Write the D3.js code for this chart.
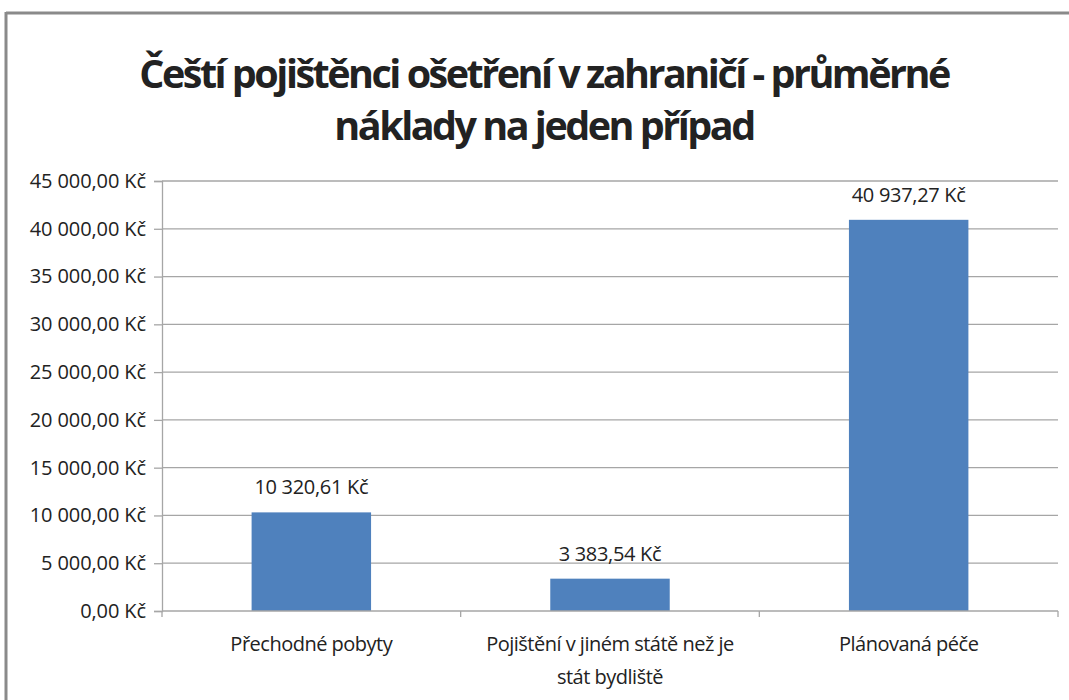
<!DOCTYPE html>
<html>
<head>
<meta charset="utf-8">
<script src="https://cdn.jsdelivr.net/npm/d3@7"></script>
<style>
  body { margin: 0; background: #fff; }
  text { font-family: "Open Sans", "Noto Sans", sans-serif; fill: #222; }
</style>
</head>
<body>
<svg width="1069" height="700"></svg>
<script>
// data
const categories = ["Přechodné pobyty", "Pojištění v jiném státě než je stát bydliště", "Plánovaná péče"];
const categoryLines = [["Přechodné pobyty"], ["Pojištění v jiném státě než je", "stát bydliště"], ["Plánovaná péče"]];
const values = [10320.61, 3383.54, 40937.27];
const valueLabels = ["10 320,61 Kč", "3 383,54 Kč", "40 937,27 Kč"];
const yTicks = [0, 5000, 10000, 15000, 20000, 25000, 30000, 35000, 40000, 45000];
const yTickLabels = ["0,00 Kč", "5 000,00 Kč", "10 000,00 Kč", "15 000,00 Kč", "20 000,00 Kč",
  "25 000,00 Kč", "30 000,00 Kč", "35 000,00 Kč", "40 000,00 Kč", "45 000,00 Kč"];
const titleLines = ["Čeští pojištěnci ošetření v zahraničí - průměrné", "náklady na jeden případ"];

const svg = d3.select("svg"),
  margin = { top: 181, right: 11, bottom: 89, left: 162 },
  width = 1069 - margin.left - margin.right,
  height = 700 - margin.top - margin.bottom;

// chart frame (only top and left edges show)
svg.append("line").attr("x1", 6).attr("x2", 1069).attr("y1", 13).attr("y2", 13)
  .attr("stroke", "#8a8a8a").attr("stroke-width", 3);
svg.append("line").attr("x1", 6).attr("x2", 6).attr("y1", 12).attr("y2", 700)
  .attr("stroke", "#8a8a8a").attr("stroke-width", 3);

// title
svg.append("text")
  .attr("x", 544).attr("y", 88)
  .attr("text-anchor", "middle")
  .attr("fill", "#000")
  .style("font-size", "39.5px").style("font-weight", "bold")
  .style("letter-spacing", "-2.5px")
  .selectAll("tspan").data(titleLines).enter().append("tspan")
  .attr("x", 544).attr("dy", (d, i) => i ? 52 : 0)
  .text(d => d);

const x = d3.scaleBand().domain(categories).range([0, width]).paddingInner(0.6).paddingOuter(0.3);
const xBand = d3.scaleBand().domain(categories).range([0, width]);
const y = d3.scaleLinear().domain([0, 45000]).range([height, 0]);

const g = svg.append("g").attr("transform", "translate(" + margin.left + "," + margin.top + ")");

// gridlines
g.append("g").selectAll("line").data(yTicks.slice(1)).enter().append("line")
  .attr("x1", 0).attr("x2", width)
  .attr("y1", d => y(d)).attr("y2", d => y(d))
  .attr("stroke", "#a6a6a6").attr("stroke-width", 1.3);

// y axis
const yAxis = g.append("g")
  .call(d3.axisLeft(y).tickValues(yTicks).tickSize(8).tickPadding(8)
    .tickFormat((d, i) => yTickLabels[i]));
yAxis.select(".domain").attr("stroke", "#a6a6a6").attr("stroke-width", 1.3);
yAxis.selectAll(".tick line").attr("stroke", "#a6a6a6").attr("stroke-width", 1.3);
yAxis.selectAll("text").style("font-size", "20px").style("letter-spacing", "-0.1px").attr("fill", "#222");

// bars
g.selectAll(".bar").data(values).enter().append("rect")
  .attr("class", "bar")
  .attr("x", (d, i) => x(categories[i]))
  .attr("width", x.bandwidth())
  .attr("y", d => y(d))
  .attr("height", d => height - y(d))
  .attr("fill", "#4f81bd");

// value labels
g.selectAll(".val").data(values).enter().append("text")
  .attr("x", (d, i) => x(categories[i]) + x.bandwidth() / 2)
  .attr("y", d => y(d) - 18)
  .attr("text-anchor", "middle")
  .style("font-size", "20px").style("letter-spacing", "-0.3px")
  .text((d, i) => valueLabels[i]);

// x axis
const xAxisG = g.append("g").attr("transform", "translate(0," + height + ")");
xAxisG.append("line").attr("x1", 0).attr("x2", width).attr("y1", 0).attr("y2", 0)
  .attr("stroke", "#a6a6a6").attr("stroke-width", 1.3);
xAxisG.selectAll(".tk").data(d3.range(categories.length + 1)).enter().append("line")
  .attr("x1", i => i * xBand.step()).attr("x2", i => i * xBand.step())
  .attr("y1", 0).attr("y2", 6)
  .attr("stroke", "#a6a6a6").attr("stroke-width", 1.3);
xAxisG.selectAll(".cat").data(categories).enter().append("text")
  .attr("text-anchor", "middle")
  .attr("y", 40)
  .style("font-size", "20px").style("letter-spacing", "-0.5px")
  .each(function (d, i) {
    d3.select(this).selectAll("tspan").data(categoryLines[i]).enter().append("tspan")
      .attr("x", xBand(d) + xBand.bandwidth() / 2)
      .attr("dy", (t, j) => j ? 33 : 0)
      .text(t => t);
  });
</script>
</body>
</html>
